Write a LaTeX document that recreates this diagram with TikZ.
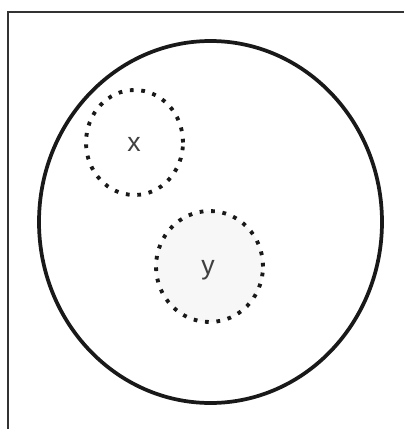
\documentclass[tikz,border=0pt]{standalone}
\usepackage{fontspec}
\setmainfont{Liberation Sans}
\usetikzlibrary{shapes.geometric}
\tikzset{
  frameline/.style={line width=1.1pt, black!80},
  outerring/.style={ellipse, draw=black!90, line width=2.8pt, inner sep=0pt},
  dotring/.style={ellipse, draw=black!90, line width=2.9pt,
     dash pattern=on 2.8pt off 5.8pt, inner sep=0pt},
  lbl/.style={text=black!75, font=\fontsize{20}{24}\selectfont, inner sep=0pt}
}
\begin{document}
\begin{tikzpicture}[x=0.75pt, y=-0.75pt]
\useasboundingbox (0,0) rectangle (404,429);
\fill[white] (0,0) rectangle (404,429);
\coordinate (fa) at (8,429);
\coordinate (fb) at (8,12);
\coordinate (fc) at (404,12);
\draw[frameline] (fa) -- (fb) -- (fc);
\node (big) [outerring, minimum width=257.25pt, minimum height=271.5pt] at (210.5,222) {};
\node (cx) [dotring, minimum width=72.75pt, minimum height=78.75pt] at (134.5,142.5) {};
\node (cy) [dotring, fill=black!3, minimum width=80.25pt, minimum height=83.25pt] at (209.5,266.5) {};
\node (lx) [lbl] at (134,144) {x};
\node (ly) [lbl] at (208,270) {y};
\end{tikzpicture}
\end{document}
